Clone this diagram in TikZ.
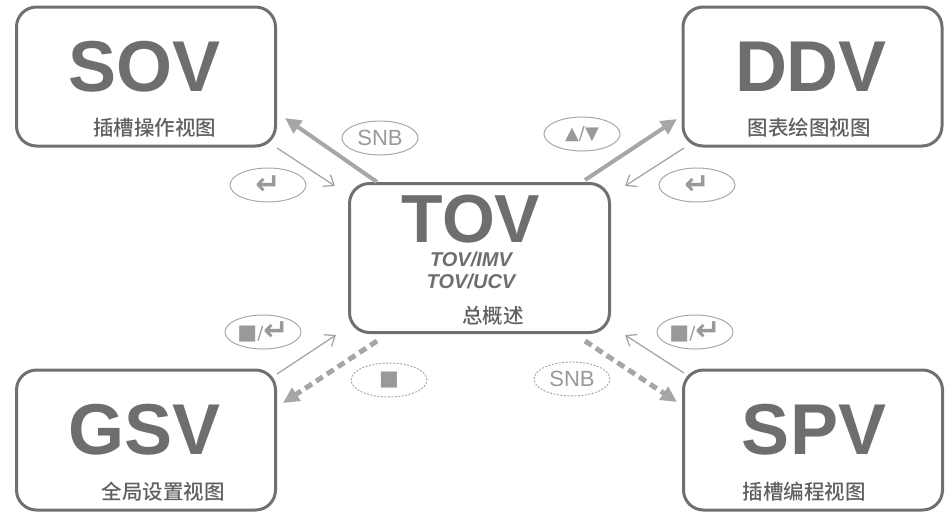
\documentclass[tikz,border=0pt]{standalone}
\usepackage{fontspec}
\setmainfont{Liberation Sans}
\newfontfamily\cjk{Noto Sans CJK SC Medium}
\newfontfamily\dejavu{DejaVu Sans}
\usetikzlibrary{shapes.geometric,arrows.meta}
\definecolor{boxgray}{HTML}{707070}
\definecolor{titlegray}{HTML}{6E6E6E}
\definecolor{subgray}{HTML}{606060}
\definecolor{arrgray}{HTML}{A6A6A6}
\definecolor{ellgray}{HTML}{A8A8A8}
\definecolor{elltext}{HTML}{999999}
\newcommand{\entkey}{{\dejavu\bfseries\fontsize{30}{30}\selectfont\raisebox{-1pt}{↵}}}
\newcommand{\stopkey}{{\dejavu\fontsize{21}{21}\selectfont ■}}
\begin{document}
\begin{tikzpicture}[x=1pt,y=-1pt,
  viewbox/.style={draw=boxgray,line width=3pt,rounded corners=20pt,minimum width=259pt,minimum height=139pt,inner sep=0pt},
  bigtitle/.style={text=titlegray,font=\fontsize{72}{72}\selectfont\bfseries,inner sep=0pt},
  subtitle/.style={text=subgray,font=\cjk\fontsize{20.5}{20.5}\selectfont,inner sep=0pt},
  keyell/.style={draw=ellgray,line width=1pt,ellipse,minimum width=76pt,minimum height=34pt,inner sep=0pt,text=elltext,font=\fontsize{22}{22}\selectfont},
  keyelldot/.style={keyell,dash pattern=on 2pt off 1.5pt},
  thickarr/.style={draw=arrgray,line width=4pt,-{Triangle[length=16pt,width=15pt]}},
  dasharr/.style={draw=arrgray,line width=5pt,dash pattern=on 8pt off 5pt,-{Triangle[length=16pt,width=15pt]}},
  thinarr/.style={draw=arrgray,line width=1.3pt,-{Straight Barb[length=9pt,width=14pt]}}
]
\useasboundingbox (0,0) rectangle (952,512);

% boxes
\node[viewbox] (sov) at (146,76.5) {};
\node[viewbox] (ddv) at (812.5,76.5) {};
\node[viewbox,minimum width=260pt,minimum height=149pt] (tov) at (479.5,258) {};
\node[viewbox,minimum height=140pt] (gsv) at (146,440) {};
\node[viewbox,minimum height=140pt] (spv) at (813,440) {};

% titles
\node[bigtitle] (sovt) at (144.5,67) {SOV};
\node[subtitle] (sovs) at (154.5,128) {插槽操作视图};
\node[bigtitle] (ddvt) at (811,67) {DDV};
\node[subtitle] (ddvs) at (809,128) {图表绘图视图};
\node[bigtitle] (gsvt) at (144.5,430) {GSV};
\node[subtitle] (gsvs) at (163,492) {全局设置视图};
\node[bigtitle] (spvt) at (814,430) {SPV};
\node[subtitle] (spvs) at (804,492) {插槽编程视图};
\node[bigtitle,font=\fontsize{68}{68}\selectfont\bfseries] (tovt) at (471,219.5) {TOV};
\node[text=titlegray,font=\fontsize{20}{20}\selectfont\bfseries\itshape,inner sep=0pt] (tovi) at (471,259.5) {TOV/IMV};
\node[text=titlegray,font=\fontsize{20}{20}\selectfont\bfseries\itshape,inner sep=0pt] (tovu) at (471,281) {TOV/UCV};
\node[subtitle] (tovs) at (493,316) {总概述};

% arrow end points
\coordinate (a1s) at (377,182); \coordinate (a1e) at (285,118);
\coordinate (a2s) at (277,148); \coordinate (a2e) at (335,186);
\coordinate (b1s) at (585,180); \coordinate (b1e) at (677,119);
\coordinate (b2s) at (684,148); \coordinate (b2e) at (625,186);
\coordinate (c1s) at (277,374); \coordinate (c1e) at (336,335);
\coordinate (c2s) at (377,341); \coordinate (c2e) at (283,403);
\coordinate (d1s) at (585,341); \coordinate (d1e) at (677,402);
\coordinate (d2s) at (684,373); \coordinate (d2e) at (625,335);

\draw[thickarr] (a1s) -- (a1e);
\draw[thinarr] (a2s) -- (a2e);
\draw[thickarr] (b1s) -- (b1e);
\draw[thinarr] (b2s) -- (b2e);
\draw[thinarr] (c1s) -- (c1e);
\draw[dasharr] (c2s) -- (c2e);
\draw[dasharr] (d1s) -- (d1e);
\draw[thinarr] (d2s) -- (d2e);

% key ellipses
\node[keyell] (snb1) at (380,138) {SNB};
\node[keyell] (ent1) at (268,185) {\entkey};
\node[keyell] (updn) at (582,134) {{\dejavu\fontsize{18}{18}\selectfont ▲/▼}};
\node[keyell] (ent2) at (697,185) {\entkey};
\node[keyell] (stpe1) at (263,332) {\stopkey{\dejavu\fontsize{18}{18}\selectfont /}\entkey};
\node[keyelldot] (stp) at (389,380) {\stopkey};
\node[keyell] (stpe2) at (695,332) {\stopkey{\dejavu\fontsize{18}{18}\selectfont /}\entkey};
\node[keyelldot] (snb2) at (572,379) {SNB};
\end{tikzpicture}
\end{document}
